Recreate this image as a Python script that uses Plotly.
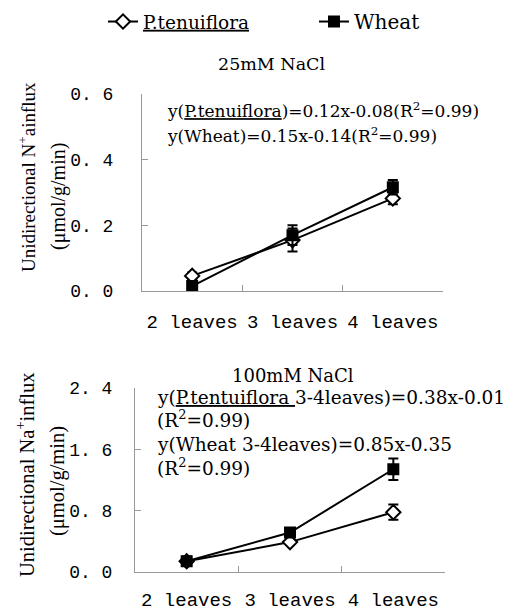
import plotly.graph_objects as go

categories = ["2 leaves", "3 leaves", "4 leaves"]

# 25 mM NaCl
p25 = [0.046, 0.155, 0.282]
p25_err = [0.01, 0.035, 0.018]
w25 = [0.015, 0.17, 0.316]
w25_err = [0.01, 0.03, 0.022]

# 100 mM NaCl
p100 = [0.14, 0.39, 0.78]
p100_err = [0.06, 0.03, 0.10]
w100 = [0.14, 0.515, 1.34]
w100_err = [0.06, 0.04, 0.14]

y1_ticks = [0.0, 0.2, 0.4, 0.6]
y1_text = ["0. 0", "0. 2", "0. 4", "0. 6"]
y2_ticks = [0.0, 0.8, 1.6, 2.4]
y2_text = ["0. 0", "0. 8", "1. 6", "2. 4"]

OFF = 8  # page body margin
W, H = 511 - OFF, 612 - OFF
SERIF = "DejaVu Serif"
TSERIF = "Liberation Serif"
MONO = "Liberation Mono"

def fx(x):
    return (x - OFF) / W

def fy(y):
    return 1 - (y - OFF) / H

def px_x(a, b):
    return [fx(a), fx(b)]

def px_y(top, bottom):
    return [fy(bottom), fy(top)]

fig = go.Figure()

def add_series(y, err, xa, ya, name, show, symbol, fill):
    fig.add_trace(go.Scatter(
        x=categories, y=y, xaxis=xa, yaxis=ya, name=name, showlegend=show,
        mode="lines+markers",
        line=dict(color="black", width=2),
        marker=dict(symbol=symbol, size=11 if symbol == "diamond" else 10,
                    color=fill, line=dict(color="black", width=2)),
        error_y=dict(type="data", array=err, color="black", thickness=2, width=5),
        legendgroup=name,
    ))

add_series(p25, p25_err, "x", "y", "<u>P.tenuiflora</u>", True, "diamond", "white")
add_series(w25, w25_err, "x", "y", "<span style='font-size:20px'>Wheat</span>", True, "square", "black")
add_series(p100, p100_err, "x2", "y2", "P", False, "diamond", "white")
add_series(w100, w100_err, "x2", "y2", "W", False, "square", "black")

axis_common = dict(showline=True, linecolor="#999999", linewidth=1, showgrid=False,
                   zeroline=False, ticks="inside", tickcolor="#999999", ticklen=6,
                   automargin=False)

fig.update_layout(
    width=W, height=H,
    margin=dict(l=0, r=0, t=0, b=0, autoexpand=False),
    paper_bgcolor="white", plot_bgcolor="white",
    font=dict(family=SERIF, color="black", size=16),
    legend=dict(orientation="h", x=fx(103), xanchor="left", y=fy(22), yanchor="middle",
                font=dict(family=SERIF, size=18.5), entrywidth=166, entrywidthmode="pixels",
                bgcolor="rgba(0,0,0,0)"),
    xaxis=dict(domain=px_x(142, 443), anchor="y", type="category", range=[-0.5, 2.5],
               tickson="boundaries", tickfont=dict(family=MONO, size=19),
               ticklabelstandoff=13, **axis_common),
    yaxis=dict(domain=px_y(94, 291), anchor="x", range=[0, 0.6],
               tickvals=y1_ticks, ticktext=y1_text, tickfont=dict(family=MONO, size=18),
               ticklabelstandoff=24, **axis_common),
    xaxis2=dict(domain=px_x(135, 445), anchor="y2", type="category", range=[-0.5, 2.5],
                tickson="boundaries", tickfont=dict(family=MONO, size=19),
                ticklabelstandoff=10, **axis_common),
    yaxis2=dict(domain=px_y(388, 572), anchor="x2", range=[0, 2.4],
                tickvals=y2_ticks, ticktext=y2_text, tickfont=dict(family=MONO, size=18),
                ticklabelstandoff=18, **axis_common),
)

def ann(text, x, y, size=16, xanchor="left", angle=0, family=SERIF):
    fig.add_annotation(text=text, x=fx(x), y=fy(y), xref="paper", yref="paper",
                       xanchor=xanchor, yanchor="middle", showarrow=False,
                       textangle=angle, font=dict(family=family, size=size, color="black"))

ann("25mM NaCl", 271, 64, size=17.5, xanchor="center")
ann("100mM NaCl", 293, 375, size=18, xanchor="center")

ann("y(<u>P.tenuiflora</u>)=0.12x-0.08(R<sup>2</sup>=0.99)", 165, 110, size=17)
ann("y(Wheat)=0.15x-0.14(R<sup>2</sup>=0.99)", 165, 135, size=17)

ann("y(<u>P.tentuiflora </u>3-4leaves)=0.38x-0.01", 155, 397, size=18.5)
ann("(R<sup>2</sup>=0.99)", 155, 419, size=18.5)
ann("y(Wheat 3-4leaves)=0.85x-0.35", 155, 444, size=18.5)
ann("(R<sup>2</sup>=0.99)", 155, 467, size=18.5)

ann("Unidirectional N<sup>+</sup>ainflux", 27, 177, size=19, xanchor="center", angle=-90, family=TSERIF)
ann("(μmol/g/min)", 58, 197, size=20, xanchor="center", angle=-90, family=TSERIF)
ann("Unidirectional Na<sup>+</sup>influx", 25, 475, size=20.5, xanchor="center", angle=-90, family=TSERIF)
ann("(μmol/g/min)", 58, 481, size=20.5, xanchor="center", angle=-90, family=TSERIF)

fig.write_html("out.html")
